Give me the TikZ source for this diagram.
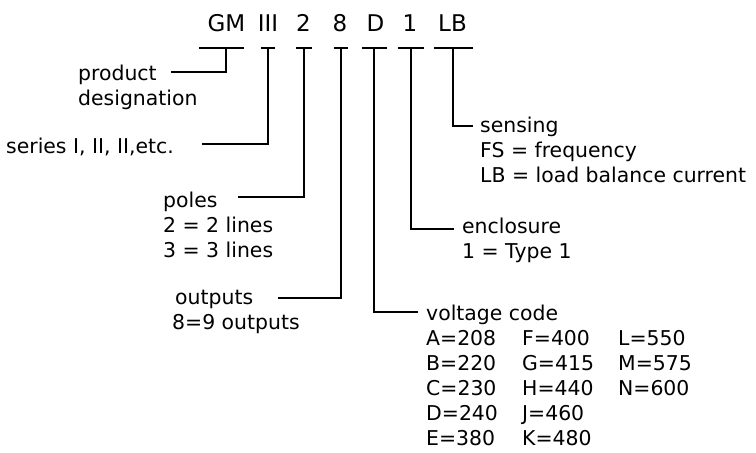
\documentclass[tikz,border=0pt]{standalone}
\usepackage{fontspec}
\setmainfont{DejaVu Sans}
\usepackage{array}
\usetikzlibrary{positioning}

\begin{document}
\begin{tikzpicture}[x=1pt, y=-1pt,
  code/.style={font=\fontsize{23}{27}\selectfont, inner sep=0pt},
  lbl/.style={font=\fontsize{20.4}{25}\selectfont, inner sep=0pt, align=left},
  head/.style={lbl, anchor=west},
  sub/.style={lbl, below right=12.5pt and 0pt of #1},
  ln/.style={line width=2pt, line cap=rect}]

\useasboundingbox (0,0) rectangle (756,453);

% ── le code ──
\node[code] (gm)  at (226.5,23) {GM};
\node[code] (ser) at (268,23) {III};
\node[code] (pol) at (303.5,23) {2};
\node[code] (out) at (340,23) {8};
\node[code] (vol) at (375.5,23) {D};
\node[code] (enc) at (410,23) {1};
\node[code] (sen) at (452.5,23) {LB};

\coordinate (gmT)  at (226,48);
\coordinate (serT) at (268,48);
\coordinate (polT) at (304,48);
\coordinate (outT) at (341,48);
\coordinate (volT) at (374,48);
\coordinate (encT) at (411,48);
\coordinate (senT) at (453,48);

% ── les libellés ──
\node[head] (prod) at (78,75) {\strut product};
\node[sub=prod.west] (prod2) {\strut designation};
\node[head] (seri) at (6,148) {\strut series I, II, II,etc.};
\node[head] (pole) at (163,202) {\strut poles};
\node[sub=pole.west] (pole2) {\strut 2 = 2 lines\\3 = 3 lines};
\node[head] (outp) at (175,299) {\strut outputs};
\node[sub=outp.west, xshift=-3pt] (outp2) {\strut 8=9 outputs};
\node[head] (volc) at (426,315) {\strut voltage code};
\node[sub=volc.west] (volc2)
  {\begin{tabular}{@{}p{96pt}@{}p{96pt}@{}l@{}}
   A=208 & F=400 & L=550\\
   B=220 & G=415 & M=575\\
   C=230 & H=440 & N=600\\
   D=240 & J=460 & \\
   E=380 & K=480 &
   \end{tabular}};
\node[head] (encl) at (462,228) {\strut enclosure};
\node[sub=encl.west] (encl2) {\strut 1 = Type 1};
\node[head] (sens) at (480,127) {\strut sensing};
\node[sub=sens.west] (sens2) {\strut FS = frequency\\LB = load balance current};

% ── les traits ──
\draw[ln] ([xshift=-26pt]gmT) -- ([xshift=17pt]gmT);
\draw[ln] (gmT) |- ([xshift=15pt, yshift=3pt]prod.east);
\draw[ln] ([xshift=-6pt]serT) -- ([xshift=6pt]serT);
\draw[ln] (serT) |- ([xshift=29pt, yshift=4pt]seri.east);
\draw[ln] ([xshift=-7pt]polT) -- ([xshift=7pt]polT);
\draw[ln] (polT) |- ([xshift=21pt, yshift=5pt]pole.east);
\draw[ln] ([xshift=-6pt]outT) -- ([xshift=6pt]outT);
\draw[ln] (outT) |- ([xshift=26pt, yshift=1pt]outp.east);
\draw[ln] ([xshift=-11pt]volT) -- ([xshift=12pt]volT);
\draw[ln] (volT) |- ([xshift=-9pt, yshift=3pt]volc.west);
\draw[ln] ([xshift=-12pt]encT) -- ([xshift=12pt]encT);
\draw[ln] (encT) |- ([xshift=-9pt, yshift=-1pt]encl.west);
\draw[ln] ([xshift=-18pt]senT) -- ([xshift=19pt]senT);
\draw[ln] (senT) |- ([xshift=-8pt, yshift=1pt]sens.west);

\end{tikzpicture}
\end{document}
